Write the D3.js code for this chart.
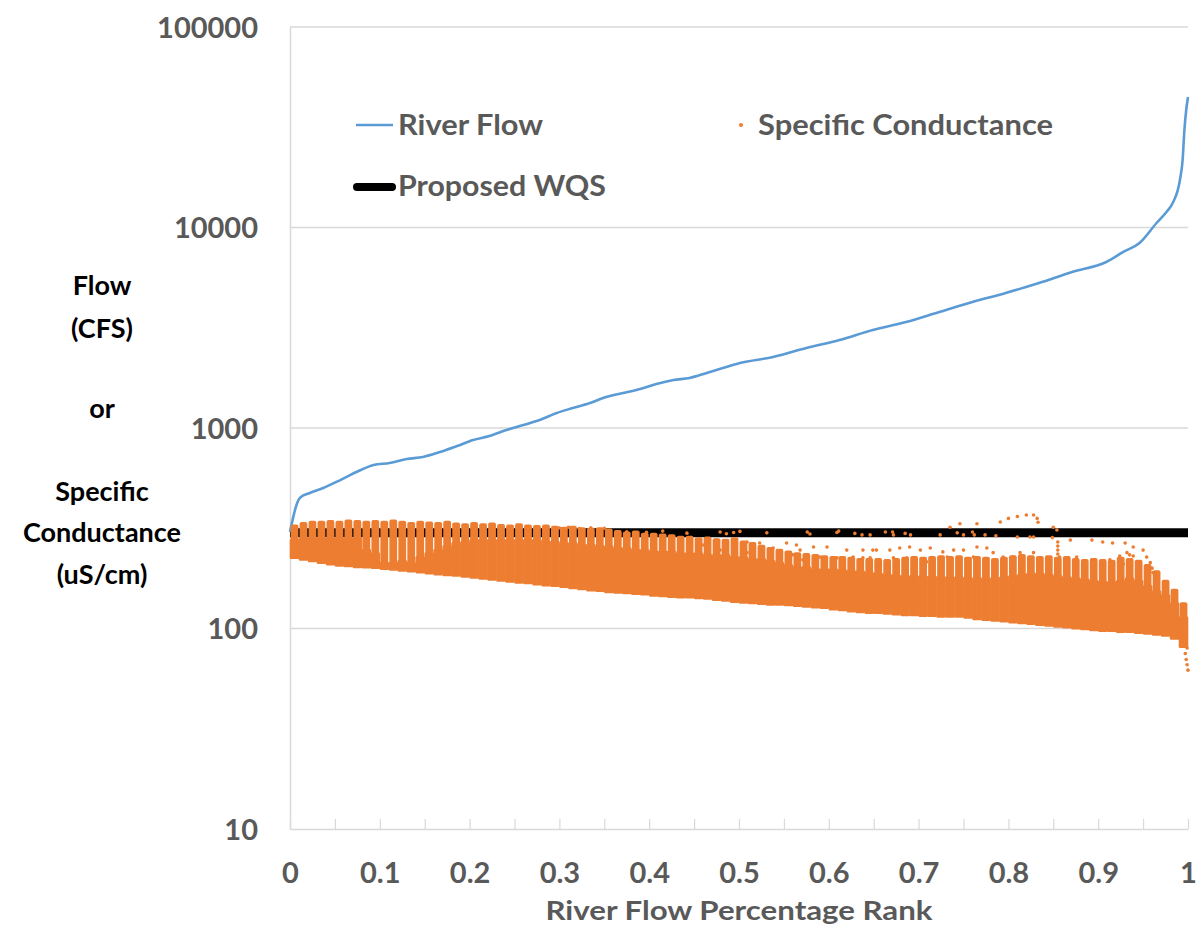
<!DOCTYPE html>
<html>
<head>
<meta charset="utf-8">
<script src="https://cdn.jsdelivr.net/npm/d3@7"></script>
<style>
  body { margin: 0; background: #fff; }
  svg { display: block; }
  text { font-family: Lato, "Open Sans", sans-serif; font-weight: 700; }
</style>
</head>
<body>
<svg id="chart" width="1199" height="928"></svg>
<script>
// ---- River flow duration curve (rank vs. flow, cfs) ----
const flowRank = [0, 0.008, 0.011, 0.022, 0.037, 0.056, 0.074, 0.093, 0.111, 0.13, 0.148, 0.167, 0.186, 0.204, 0.222, 0.241, 0.26, 0.278, 0.297, 0.315, 0.334, 0.352, 0.371, 0.39, 0.408, 0.427, 0.445, 0.464, 0.482, 0.501, 0.538, 0.575, 0.612, 0.649, 0.686, 0.723, 0.76, 0.797, 0.834, 0.871, 0.909, 0.928, 0.946, 0.965, 0.976, 0.983, 0.991, 0.994, 0.996, 0.998, 1.0];
const flowCfs = [303, 423, 448, 474, 502, 550, 603, 654, 669, 700, 717, 759, 813, 871, 912, 977, 1035, 1096, 1188, 1258, 1333, 1428, 1495, 1565, 1658, 1735, 1776, 1881, 1992, 2110, 2260, 2506, 2747, 3082, 3379, 3790, 4250, 4713, 5287, 6000, 6730, 7550, 8370, 10530, 11950, 13250, 17260, 21710, 30640, 38550, 44760];

// ---- Specific conductance readings grouped by flow-rank bin (uS/cm) ----
// scLow: lowest reading, scCore: top of the dense cluster, scHigh: highest regular reading
const scRank = [0.005, 0.015, 0.025, 0.035, 0.045, 0.055, 0.065, 0.075, 0.085, 0.095,
  0.105, 0.115, 0.125, 0.135, 0.145, 0.155, 0.165, 0.175, 0.185, 0.195,
  0.205, 0.215, 0.225, 0.235, 0.245, 0.255, 0.265, 0.275, 0.285, 0.295,
  0.305, 0.315, 0.325, 0.335, 0.345, 0.355, 0.365, 0.375, 0.385, 0.395,
  0.405, 0.415, 0.425, 0.435, 0.445, 0.455, 0.465, 0.475, 0.485, 0.495,
  0.505, 0.515, 0.525, 0.535, 0.545, 0.555, 0.565, 0.575, 0.585, 0.595,
  0.605, 0.615, 0.625, 0.635, 0.645, 0.655, 0.665, 0.675, 0.685, 0.695,
  0.705, 0.715, 0.725, 0.735, 0.745, 0.755, 0.765, 0.775, 0.785, 0.795,
  0.805, 0.815, 0.825, 0.835, 0.845, 0.855, 0.865, 0.875, 0.885, 0.895,
  0.905, 0.915, 0.925, 0.935, 0.945, 0.955, 0.965, 0.975, 0.985, 0.995];
const scLow = [222, 218, 214, 210, 206, 203, 202, 200, 199, 198,
  196, 194, 192, 190, 188, 186, 184, 182, 181, 179,
  177, 175, 173, 171, 169, 167, 166, 164, 162, 161,
  159, 157, 155, 153, 152, 150, 149, 148, 147, 146,
  144, 143, 142, 141, 141, 140, 139, 137, 136, 134,
  133, 132, 131, 130, 130, 129, 128, 127, 126, 125,
  123, 122, 120, 119, 118, 118, 117, 116, 115, 115,
  114, 114, 113, 113, 113, 112, 110, 109, 108, 107,
  106, 105, 104, 103, 102, 101, 100, 99, 98, 97,
  96, 96, 95, 95, 94, 93, 92, 91, 88, 80];
const scCore = [280, 285, 285, 285, 285, 285, 285, 285, 250, 240,
  215, 215, 220, 215, 230, 240, 250, 260, 270, 275,
  280, 280, 280, 280, 280, 280, 280, 280, 275, 275,
  270, 270, 265, 265, 260, 260, 255, 255, 250, 250,
  245, 245, 245, 240, 240, 240, 235, 235, 235, 230,
  230, 225, 225, 220, 215, 210, 205, 205, 200, 200,
  200, 198, 196, 195, 192, 190, 188, 186, 185, 185,
  184, 184, 183, 182, 182, 180, 180, 180, 180, 182,
  185, 188, 190, 190, 188, 185, 183, 180, 178, 175,
  173, 172, 175, 180, 175, 165, 155, 148, 135, 115];
const scHigh = [330, 340, 345, 345, 348, 345, 350, 348, 345, 348,
  345, 350, 345, 340, 345, 342, 340, 345, 338, 335,
  340, 335, 338, 332, 330, 335, 330, 328, 330, 325,
  322, 325, 320, 318, 320, 315, 310, 305, 308, 300,
  300, 298, 295, 290, 290, 285, 288, 282, 280, 285,
  275, 270, 262, 255, 250, 245, 240, 238, 235, 232,
  230, 230, 228, 225, 225, 225, 222, 225, 228, 230,
  228, 230, 232, 230, 232, 228, 230, 228, 225, 228,
  232, 235, 232, 230, 232, 228, 230, 225, 222, 225,
  222, 220, 228, 225, 220, 210, 195, 175, 158, 135];

// Individual readings outside the main cluster
const scOutRank = [0.30, 0.31, 0.322, 0.335, 0.35,
  0.304, 0.315, 0.326, 0.337, 0.345, 0.356, 0.367, 0.375, 0.386, 0.397, 0.415, 0.442, 0.479, 0.486, 0.494, 0.501, 0.531, 0.576, 0.579, 0.609, 0.611, 0.629, 0.637, 0.646,
  0.445, 0.46, 0.475, 0.486, 0.494, 0.509, 0.523, 0.538, 0.553, 0.564, 0.568, 0.583, 0.59, 0.598, 0.609, 0.62, 0.627, 0.638, 0.649, 0.653, 0.571, 0.546, 0.527, 0.56, 0.509, 0.479,
  0.724, 0.735, 0.746, 0.743, 0.765, 0.76, 0.791, 0.80, 0.81, 0.82, 0.828, 0.832, 0.833, 0.85, 0.854, 0.849, 0.855, 0.855, 0.855, 0.855, 0.869, 0.893, 0.905, 0.916, 0.93, 0.939, 0.95, 0.954, 0.958, 0.961, 0.96,
  0.663, 0.671, 0.672, 0.685, 0.691, 0.75, 0.762, 0.774, 0.786, 0.81, 0.824, 0.828,
  0.638, 0.653, 0.668, 0.679, 0.69, 0.702, 0.713, 0.727, 0.739, 0.75, 0.765, 0.776, 0.783, 0.794, 0.805, 0.813, 0.828, 0.843, 0.857, 0.876, 0.895, 0.913, 0.924, 0.935, 0.943,
  0.672, 0.687, 0.646, 0.657, 0.709, 0.746, 0.761, 0.732,
  0.924, 0.932, 0.939, 0.928, 0.935,
  0.997, 0.998, 0.999, 1.0, 0.999, 0.998];
const scOutValue = [317, 320, 315, 318, 316,
  303, 297, 305, 299, 308, 300, 296, 304, 298, 302, 306, 299, 303, 297, 301, 305, 300, 303, 296, 301, 306, 298, 293, 293,
  267, 261, 276, 270, 267, 270, 267, 252, 267, 261, 246, 255, 227, 255, 225, 246, 227, 225, 246, 204, 220, 227, 233, 233, 239, 246,
  293, 320, 333, 300, 333, 303, 340, 354, 362, 368, 368, 354, 339, 320, 310, 284, 270, 258, 246, 235, 276, 276, 270, 267, 267, 255, 246, 227, 213, 190, 200,
  303, 303, 293, 298, 293, 293, 293, 293, 290, 286, 286, 286,
  246, 246, 246, 252, 255, 246, 252, 241, 246, 246, 255, 252, 239, 227, 227, 239, 239, 220, 227, 227, 220, 220, 215, 233, 213,
  225, 225, 225, 207, 215, 220, 227, 227,
  230, 239, 230, 210, 205,
  75, 70, 66, 62, 80, 90];

// Proposed water quality standard (uS/cm)
const wqsValue = 300;

const yTickValues = [10, 100, 1000, 10000, 100000];
const xTickValues = [0, 0.05, 0.1, 0.15, 0.2, 0.25, 0.3, 0.35, 0.4, 0.45, 0.5, 0.55, 0.6, 0.65, 0.7, 0.75, 0.8, 0.85, 0.9, 0.95, 1];
const xTickLabels = ["0", "", "0.1", "", "0.2", "", "0.3", "", "0.4", "", "0.5", "", "0.6", "", "0.7", "", "0.8", "", "0.9", "", "1"];

const seriesNames = ["River Flow", "Specific Conductance", "Proposed WQS"];
const yTitleLines = ["Flow", "(CFS)", "or", "Specific", "Conductance", "(uS/cm)"];
const xTitle = "River Flow Percentage Rank";

const colFlow = "#5b9bd5", colSC = "#ed7d31", colWQS = "#000000";
const colGrid = "#d9d9d9", colLabel = "#595959";

const svg = d3.select("#chart");
const plot = { left: 290, right: 1188, top: 27, bottom: 829 };

const x = d3.scaleLinear().domain([0, 1]).range([plot.left, plot.right]);
const y = d3.scaleLog().domain([10, 100000]).range([plot.bottom, plot.top]);

// Horizontal gridlines
svg.append("g").selectAll("line")
  .data(yTickValues.filter(v => v > 10))
  .join("line")
  .attr("x1", plot.left).attr("x2", plot.right)
  .attr("y1", d => y(d)).attr("y2", d => y(d))
  .attr("stroke", colGrid).attr("stroke-width", 1.5);

// Y axis
const yAxis = svg.append("g")
  .attr("transform", `translate(${plot.left},0)`)
  .call(d3.axisLeft(y).tickValues(yTickValues).tickSize(0).tickPadding(32).tickFormat(d3.format("d")));
yAxis.select(".domain").attr("stroke", colGrid).attr("stroke-width", 1.5);
yAxis.selectAll("text").attr("fill", colLabel).style("font-size", "29px").attr("dy", "0.36em");

// X axis with inward minor ticks
const xAxis = svg.append("g")
  .attr("transform", `translate(0,${plot.bottom})`)
  .call(d3.axisBottom(x).tickValues(xTickValues).tickSizeInner(-10).tickSizeOuter(0).tickPadding(33)
    .tickFormat((d, i) => xTickLabels[i]));
xAxis.select(".domain").attr("stroke", colGrid).attr("stroke-width", 1.5);
xAxis.selectAll(".tick line").attr("stroke", colGrid).attr("stroke-width", 1.2);
xAxis.selectAll("text").attr("fill", colLabel).style("font-size", "29px");

// Proposed WQS line
svg.append("line")
  .attr("x1", x(0)).attr("x2", x(1))
  .attr("y1", y(wqsValue)).attr("y2", y(wqsValue))
  .attr("stroke", colWQS).attr("stroke-width", 9);

// River flow curve
svg.append("path")
  .datum(flowRank.map((r, i) => [r, flowCfs[i]]))
  .attr("fill", "none").attr("stroke", colFlow).attr("stroke-width", 2.6)
  .attr("d", d3.line().x(d => x(d[0])).y(d => y(d[1])).curve(d3.curveMonotoneX));

// Specific conductance: dense cluster per bin, with a slightly narrower streak above it
const binW = x(0.01) - x(0);
const bins = scRank.map((r, i) => ({ r, lo: scLow[i], core: scCore[i], hi: scHigh[i] }));
const sc = svg.append("g").attr("fill", colSC);
sc.selectAll("rect.core").data(bins).join("rect").attr("class", "core")
  .attr("x", d => x(d.r) - binW / 2 - 0.3).attr("width", binW + 0.6)
  .attr("y", d => y(d.core)).attr("height", d => y(d.lo) - y(d.core))
  .attr("rx", 1.5);
sc.selectAll("rect.fringe").data(bins).join("rect").attr("class", "fringe")
  .attr("x", d => x(d.r) - 3.9).attr("width", 7.8)
  .attr("y", d => y(d.hi)).attr("height", d => y(d.core) - y(d.hi) + 2)
  .attr("rx", 2);
sc.selectAll("circle").data(scOutRank.map((r, i) => [r, scOutValue[i]])).join("circle")
  .attr("cx", d => x(d[0])).attr("cy", d => y(d[1])).attr("r", 1.8);

// Legend
const lg = svg.append("g");
lg.append("line").attr("x1", 356).attr("x2", 393).attr("y1", 125).attr("y2", 125)
  .attr("stroke", colFlow).attr("stroke-width", 2.5);
lg.append("text").attr("x", 398).attr("y", 135).text(seriesNames[0])
  .attr("fill", colLabel).style("font-size", "28px").attr("textLength", 145).attr("lengthAdjust", "spacingAndGlyphs");
lg.append("circle").attr("cx", 741).attr("cy", 125).attr("r", 2).attr("fill", colSC);
lg.append("text").attr("x", 758).attr("y", 135).text(seriesNames[1])
  .attr("fill", colLabel).style("font-size", "28px").attr("textLength", 295).attr("lengthAdjust", "spacingAndGlyphs");
lg.append("line").attr("x1", 357).attr("x2", 392).attr("y1", 187).attr("y2", 187)
  .attr("stroke", colWQS).attr("stroke-width", 8).attr("stroke-linecap", "round");
lg.append("text").attr("x", 398).attr("y", 196).text(seriesNames[2])
  .attr("fill", colLabel).style("font-size", "28px").attr("textLength", 208).attr("lengthAdjust", "spacingAndGlyphs");

// Axis titles
const yTitleBase = [295, 338, 418, 501, 542, 584];
svg.append("g").selectAll("text").data(yTitleLines).join("text")
  .attr("x", 102).attr("y", (d, i) => yTitleBase[i])
  .attr("text-anchor", "middle").attr("fill", "#000").style("font-size", "27px")
  .text(d => d);

svg.append("text").attr("x", (plot.left + plot.right) / 2).attr("y", 920)
  .attr("text-anchor", "middle").attr("fill", colLabel).style("font-size", "27px")
  .attr("textLength", 387).attr("lengthAdjust", "spacingAndGlyphs")
  .text(xTitle);
</script>
</body>
</html>
